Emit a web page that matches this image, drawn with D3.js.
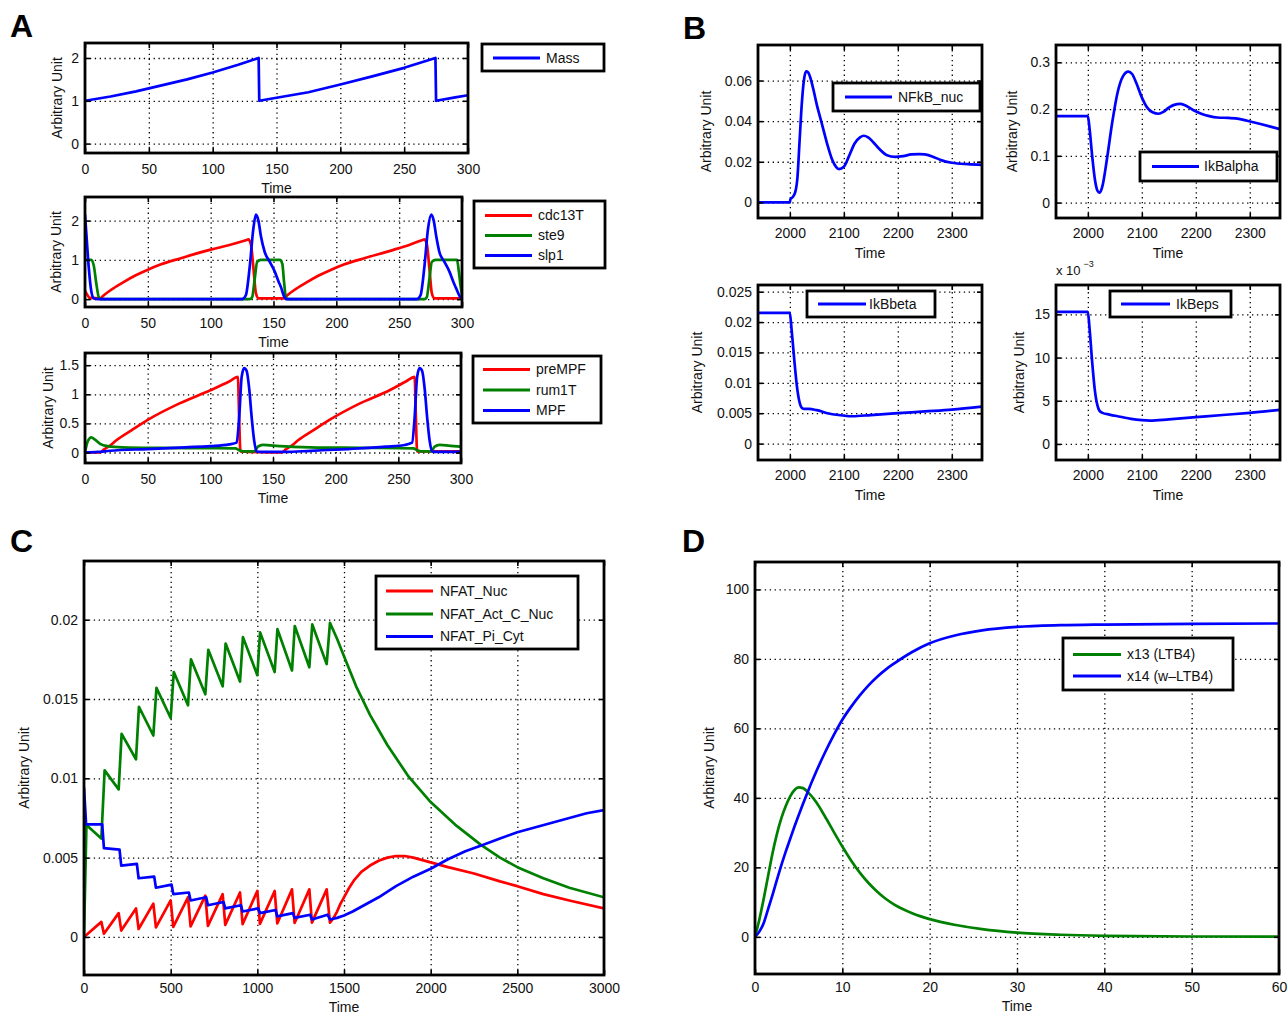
<!DOCTYPE html>
<html><head><meta charset="utf-8">
<script src="https://cdn.jsdelivr.net/npm/d3@7"></script>
<style>body{margin:0;background:#fff}svg{display:block}text{font-family:"Liberation Sans",Arial,sans-serif}</style>
</head><body><svg id="c" width="1288" height="1015"></svg>
<script>
// ---------- DATA ----------
// Panel A
const massT = [0,20,40,60,80,100,120,136,136.5,150,175,200,225,250,274.5,275,290,300];
const massV = [1,1.1,1.22,1.36,1.5,1.66,1.84,2,1,1.07,1.2,1.38,1.57,1.77,2,1,1.08,1.13];
const cdcT = [0,2,4,12,15,20,30,40,50,60,75,100,115,128,130,132,134,136,138,158,161,166,176,186,196,206,221,246,258,268,270,272,274,276,278,300];
const cdcV = [0.22,0.1,0.03,0.02,0.1,0.22,0.42,0.6,0.75,0.88,1.03,1.26,1.38,1.5,1.52,1.4,0.8,0.15,0.02,0.02,0.1,0.22,0.42,0.6,0.75,0.88,1.03,1.26,1.38,1.5,1.52,1.4,0.8,0.15,0.02,0.02];
const steT = [0,5,7,9,11,13,131,133,135,137,140,155,157,158.5,160,162,270,272,274,276,279,296,297.5,299,300];
const steV = [1,1,0.85,0.4,0.05,0,0,0.05,0.5,0.95,1,1,0.9,0.4,0.03,0,0,0.05,0.5,0.95,1,1,0.7,0.3,0.1];
const slpT = [0,1,3,5,7,10,125,128,131,134,136,138,140,143,147,151,154,156,158,160,264,267,270,273,275.5,277.5,279.5,282,286,290,293,295,297,299,300];
const slpV = [2.15,1.7,0.8,0.2,0.02,0,0,0.1,0.8,1.8,2.15,2.0,1.6,1.2,0.95,0.7,0.45,0.3,0.1,0,0,0.1,0.8,1.8,2.15,2.0,1.6,1.2,0.95,0.7,0.45,0.3,0.15,0.03,0];
const preT = [0,12,15,20,25,37,50,75,100,115,122,123,124,157,160,165,170,182,195,219,243,256,263,264,265,300];
const preV = [0,0,0.05,0.12,0.21,0.38,0.56,0.84,1.07,1.22,1.3,0.6,0.02,0,0.05,0.12,0.21,0.38,0.56,0.84,1.07,1.22,1.3,0.6,0.02,0.02];
const rumT = [0,2,5,8,12,18,30,60,100,120,123,126,135,138,142,155,180,220,262,265,268,276,279,283,290,300];
const rumV = [0,0.18,0.26,0.22,0.15,0.11,0.09,0.08,0.075,0.07,0.04,0.02,0.02,0.1,0.13,0.11,0.09,0.08,0.07,0.04,0.02,0.02,0.1,0.13,0.12,0.1];
const mpfT = [0,10,20,50,80,100,115,121,123,125,127,129,131,133,135,137,139,160,180,210,240,255,261,263,265,267,269,271,273,275,277,279,300];
const mpfV = [0,0.01,0.03,0.06,0.09,0.11,0.14,0.17,0.6,1.3,1.45,1.4,1.1,0.6,0.2,0.02,0.01,0.01,0.03,0.06,0.1,0.13,0.17,0.6,1.3,1.45,1.4,1.1,0.6,0.2,0.02,0.01,0.01];
// Panel B
const nfT = [1941,2000,2001,2005,2010,2014,2018,2022,2026,2030,2034,2040,2045,2050,2056,2063,2070,2077,2083,2091,2100,2110,2120,2130,2137,2145,2155,2165,2180,2195,2210,2225,2240,2250,2265,2280,2300,2330,2356];
const nfV = [0,0,0.0015,0.0025,0.005,0.012,0.03,0.048,0.06,0.0645,0.064,0.0595,0.054,0.048,0.042,0.035,0.028,0.022,0.0185,0.0164,0.0175,0.023,0.029,0.032,0.0328,0.032,0.0295,0.0265,0.0232,0.0224,0.0228,0.0236,0.0238,0.0236,0.0225,0.0208,0.0195,0.0188,0.0185];
const iaT = [1941,2000,2003,2008,2013,2018,2022,2027,2035,2045,2055,2065,2075,2082,2090,2100,2110,2120,2131,2140,2150,2160,2171,2180,2195,2210,2225,2240,2260,2280,2295,2320,2340,2356];
const iaV = [0.185,0.185,0.16,0.1,0.05,0.025,0.021,0.035,0.09,0.17,0.235,0.27,0.28,0.275,0.255,0.225,0.203,0.193,0.19,0.194,0.203,0.209,0.211,0.208,0.198,0.19,0.185,0.182,0.181,0.179,0.175,0.168,0.162,0.157];
const ibT = [1941,2000,2003,2008,2013,2018,2022,2027,2035,2050,2070,2090,2116,2150,2200,2250,2300,2356];
const ibV = [0.0215,0.0215,0.019,0.014,0.0095,0.0068,0.0059,0.0057,0.0057,0.0055,0.005,0.0047,0.0045,0.0047,0.005,0.0053,0.0056,0.0061];
const ieT = [1941,2000,2003,2008,2013,2018,2022,2027,2040,2060,2080,2100,2115,2150,2200,2250,2300,2356];
const ieV = [15.3,15.3,13.5,9.5,6.2,4.4,3.8,3.6,3.4,3.15,2.9,2.75,2.7,2.85,3.1,3.35,3.6,3.95];
// Panel C
const nucT = [0,100,115,200,215,300,315,400,415,500,515,600,615,700,715,800,815,900,915,1000,1015,1100,1115,1200,1215,1300,1315,1400,1419,1440,1460,1480,1500,1530,1560,1600,1650,1700,1750,1800,1850,1900,2000,2100,2250,2400,2500,2650,2800,3000];
const nucV = [0,0.00095,0.0002,0.0015,0.0004,0.0018,0.0005,0.0021,0.0006,0.0023,0.00063,0.0025,0.00067,0.0026,0.0007,0.0027,0.00076,0.0028,0.0008,0.0029,0.00082,0.0029,0.00085,0.003,0.00088,0.003,0.0009,0.003,0.0009,0.0012,0.0016,0.0021,0.0025,0.0031,0.0036,0.0041,0.0045,0.0048,0.005,0.0051,0.0051,0.005,0.0047,0.0044,0.004,0.0035,0.0032,0.0027,0.0023,0.0018];
const actT = [0,14,100,119,200,217,300,317,400,418,500,518,600,617,700,717,800,817,900,917,1000,1016,1100,1116,1200,1216,1300,1317,1400,1419,1460,1500,1570,1650,1750,1873,2000,2150,2290,2400,2500,2650,2800,3000];
const actV = [0,0.00705,0.0062,0.0105,0.0093,0.0128,0.0112,0.0145,0.0127,0.0157,0.0138,0.0167,0.0146,0.0175,0.0153,0.0181,0.0158,0.0185,0.0161,0.0189,0.0165,0.0192,0.0167,0.0194,0.0168,0.0196,0.017,0.0197,0.0172,0.0198,0.0188,0.0177,0.0158,0.014,0.0121,0.0101,0.0085,0.007,0.0058,0.005,0.0044,0.0037,0.0031,0.0025];
const piT = [0,12,105,115,205,215,305,315,405,415,505,515,605,615,705,715,805,815,905,915,1005,1015,1105,1115,1205,1215,1305,1315,1405,1419,1460,1500,1550,1600,1700,1800,1900,2000,2100,2200,2300,2400,2500,2600,2700,2800,2900,3000];
const piV = [0.0094,0.0071,0.0071,0.0056,0.0055,0.0045,0.0046,0.0037,0.0038,0.0031,0.0033,0.0027,0.0028,0.0023,0.0025,0.002,0.0022,0.0018,0.002,0.0016,0.0018,0.0015,0.0017,0.0013,0.0015,0.0012,0.0014,0.0011,0.0014,0.0011,0.0012,0.00135,0.0016,0.0019,0.0025,0.0032,0.0038,0.0043,0.0049,0.0054,0.0058,0.0062,0.0066,0.0069,0.0072,0.0075,0.0078,0.008];
// Panel D
const dT = [0,0.5,1,1.5,2,2.5,3,3.5,4,4.5,5,5.5,6,7,8,9,10,11,12,13,14,15,16,18,20,23,26,30,35,40,50,60];
const x13V = [0,5,11,17.5,24,29.5,34,37.5,40.3,42.2,43,42.8,41.8,38.8,34.7,30.3,26,22,18.5,15.5,13,10.9,9.2,6.8,5.1,3.4,2.2,1.2,0.6,0.3,0.1,0.05];
const x14V = [0,1.5,4,8,12,16.3,20.5,24.4,28,31.6,35,38.3,41.5,47.5,53,58,62.5,66.2,69.5,72.4,74.9,77,78.8,82,84.5,86.8,88.2,89.2,89.7,89.9,90.1,90.2];
// Ticks
const ticksA_x = [0,50,100,150,200,250,300];
const ticksA1_y = [0,1,2];
const ticksA3_y = [0,0.5,1,1.5];
const ticksB_x = [2000,2100,2200,2300];
const ticksB1_y = [0,0.02,0.04,0.06];
const ticksB2_y = [0,0.1,0.2,0.3];
const ticksB3_y = [0,0.005,0.01,0.015,0.02,0.025];
const ticksB4_y = [0,5,10,15];
const ticksC_x = [0,500,1000,1500,2000,2500,3000];
const ticksC_y = [0,0.005,0.01,0.015,0.02];
const ticksD_x = [0,10,20,30,40,50,60];
const ticksD_y = [0,20,40,60,80,100];

// ---------- DRAW ----------
const RED="#ff0000", GREEN="#008000", BLUE="#0000ff";
const svg = d3.select("#c");
svg.append("rect").attr("width",1288).attr("height",1015).attr("fill","#fff");
const defs = svg.append("defs");
const fmt = d3.format("~g");

function drawPanel(P){
  const x = d3.scaleLinear().domain(P.xd).range([P.x0,P.x1]);
  const y = d3.scaleLinear().domain(P.yd).range([P.y1,P.y0]);
  const W = P.x1-P.x0, H = P.y1-P.y0;
  const g = svg.append("g");
  const inX = P.xt.filter(t => x(t) > P.x0+1 && x(t) < P.x1-1);
  const inY = P.yt.filter(t => y(t) > P.y0+1 && y(t) < P.y1-1);
  // grid
  const gx = g.append("g").attr("transform",`translate(0,${P.y1})`)
    .call(d3.axisBottom(x).tickValues(inX).tickSize(-H).tickFormat(""));
  const gy = g.append("g").attr("transform",`translate(${P.x0},0)`)
    .call(d3.axisLeft(y).tickValues(inY).tickSize(-W).tickFormat(""));
  [gx,gy].forEach(a=>{a.select(".domain").remove();
    a.selectAll("line").attr("stroke","#000").attr("stroke-width",1.3).attr("stroke-dasharray","1.3,3.6");});
  // curves
  const cid = "clip_"+P.id;
  defs.append("clipPath").attr("id",cid).append("rect")
    .attr("x",P.x0).attr("y",P.y0).attr("width",W).attr("height",H);
  const line = d3.line().x(d=>x(d[0])).y(d=>y(d[1])).curve(P.curve || d3.curveMonotoneX);
  P.series.forEach(s=>{
    g.append("path").datum(d3.zip(s.t,s.v)).attr("clip-path",`url(#${cid})`)
      .attr("fill","none").attr("stroke",s.c).attr("stroke-width",2.7)
      .attr("stroke-linejoin","round").attr("d",line);
  });
  // inner tick marks + labels
  const styleAx = a=>{a.select(".domain").remove();
    a.selectAll("line").attr("stroke","#000").attr("stroke-width",1.6);
    a.attr("font-size",14).attr("font-family","'Liberation Sans',Arial,sans-serif");
    a.selectAll("text").attr("fill","#111");};
  styleAx(g.append("g").attr("transform",`translate(0,${P.y1})`)
    .call(d3.axisBottom(x).tickValues(P.xt).tickSize(-5).tickPadding(P.xpad||11).tickFormat(fmt)));
  styleAx(g.append("g").attr("transform",`translate(0,${P.y0})`)
    .call(d3.axisTop(x).tickValues(P.xt).tickSize(-5).tickFormat("")));
  styleAx(g.append("g").attr("transform",`translate(${P.x0},0)`)
    .call(d3.axisLeft(y).tickValues(P.yt).tickSize(-5).tickPadding(6).tickFormat(fmt)));
  styleAx(g.append("g").attr("transform",`translate(${P.x1},0)`)
    .call(d3.axisRight(y).tickValues(P.yt).tickSize(-5).tickFormat("")));
  // box
  g.append("rect").attr("x",P.x0).attr("y",P.y0).attr("width",W).attr("height",H)
    .attr("fill","none").attr("stroke","#000").attr("stroke-width",2.8);
  // labels
  g.append("text").attr("x",(P.x0+P.x1)/2).attr("y",P.y1+P.tdy).attr("text-anchor","middle")
    .attr("font-size",14).attr("fill","#111").text("Time");
  g.append("text").attr("transform",`translate(${P.ylx},${(P.y0+P.y1)/2}) rotate(-90)`)
    .attr("text-anchor","middle").attr("dy","0.35em").attr("font-size",14).attr("fill","#111")
    .text("Arbitrary Unit");
  // legend
  const L = P.leg;
  g.append("rect").attr("x",L.x0).attr("y",L.y0).attr("width",L.x1-L.x0).attr("height",L.y1-L.y0)
    .attr("fill","#fff").attr("stroke","#000").attr("stroke-width",2.8);
  P.series.forEach((s,i)=>{
    const yy = L.ys[i];
    g.append("line").attr("x1",L.l0).attr("x2",L.l1).attr("y1",yy).attr("y2",yy)
      .attr("stroke",s.c).attr("stroke-width",3);
    g.append("text").attr("x",L.tx).attr("y",yy).attr("dy","0.35em").attr("font-size",14)
      .attr("fill","#111").text(s.name);
  });
  return {x,y,g};
}

// Panel A
drawPanel({id:"a1",x0:85,x1:468,y0:43,y1:153,xd:[0,300],yd:[-0.22,2.35],xt:ticksA_x,yt:ticksA1_y,tdy:40,ylx:57,
  curve:d3.curveLinear,
  series:[{t:massT,v:massV,c:BLUE,name:"Mass"}],
  leg:{x0:482,x1:604,y0:44,y1:71,l0:493,l1:540,tx:546,ys:[58]}});
drawPanel({id:"a2",x0:85,x1:462,y0:197,y1:307,xd:[0,300],yd:[-0.2,2.6],xt:ticksA_x,yt:ticksA1_y,tdy:40,ylx:56,
  series:[{t:cdcT,v:cdcV,c:RED,name:"cdc13T"},{t:steT,v:steV,c:GREEN,name:"ste9"},{t:slpT,v:slpV,c:BLUE,name:"slp1"}],
  leg:{x0:474,x1:605,y0:201,y1:268,l0:485,l1:532,tx:538,ys:[215.5,235.5,255.5]}});
drawPanel({id:"a3",x0:85,x1:461,y0:353,y1:463,xd:[0,300],yd:[-0.18,1.71],xt:ticksA_x,yt:ticksA3_y,tdy:40,ylx:48,
  series:[{t:preT,v:preV,c:RED,name:"preMPF"},{t:rumT,v:rumV,c:GREEN,name:"rum1T"},{t:mpfT,v:mpfV,c:BLUE,name:"MPF"}],
  leg:{x0:473,x1:601,y0:356,y1:423,l0:483,l1:530,tx:536,ys:[369.5,390,410.5]}});

// Panel B
drawPanel({id:"b1",x0:758,x1:982,y0:45,y1:218,xd:[1941,2356],yd:[-0.0077,0.0775],xt:ticksB_x,yt:ticksB1_y,tdy:40,ylx:706,xpad:10,
  series:[{t:nfT,v:nfV,c:BLUE,name:"NFkB_nuc"}],
  leg:{x0:833,x1:980,y0:83,y1:111,l0:845,l1:892,tx:898,ys:[97]}});
drawPanel({id:"b2",x0:1056,x1:1280,y0:45,y1:218,xd:[1941,2356],yd:[-0.033,0.337],xt:ticksB_x,yt:ticksB2_y,tdy:40,ylx:1012,xpad:10,
  series:[{t:iaT,v:iaV,c:BLUE,name:"IkBalpha"}],
  leg:{x0:1140,x1:1277,y0:152,y1:181,l0:1152,l1:1199,tx:1204,ys:[166.5]}});
drawPanel({id:"b3",x0:758,x1:982,y0:285,y1:460,xd:[1941,2356],yd:[-0.0027,0.0261],xt:ticksB_x,yt:ticksB3_y,tdy:40,ylx:697,xpad:10,
  series:[{t:ibT,v:ibV,c:BLUE,name:"IkBbeta"}],
  leg:{x0:807,x1:935,y0:291,y1:317,l0:818,l1:866,tx:869,ys:[304]}});
drawPanel({id:"b4",x0:1056,x1:1280,y0:285,y1:460,xd:[1941,2356],yd:[-1.86,18.4],xt:ticksB_x,yt:ticksB4_y,tdy:40,ylx:1019,xpad:10,
  series:[{t:ieT,v:ieV,c:BLUE,name:"IkBeps"}],
  leg:{x0:1110,x1:1231,y0:291,y1:317,l0:1121,l1:1170,tx:1176,ys:[304]}});
// exponent label for B4
const ex = svg.append("text").attr("x",1056).attr("y",275).attr("font-size",13).attr("fill","#111");
ex.append("tspan").text("x 10");
ex.append("tspan").attr("dx",3).attr("dy",-8).attr("font-size",9).text("\u22123");

// Panel C
drawPanel({id:"c",x0:84,x1:604,y0:561,y1:975,xd:[0,3000],yd:[-0.0024,0.0237],xt:ticksC_x,yt:ticksC_y,tdy:37,ylx:24,xpad:8,
  curve:d3.curveLinear,
  series:[{t:nucT,v:nucV,c:RED,name:"NFAT_Nuc"},{t:actT,v:actV,c:GREEN,name:"NFAT_Act_C_Nuc"},{t:piT,v:piV,c:BLUE,name:"NFAT_Pi_Cyt"}],
  leg:{x0:376,x1:578,y0:576,y1:649,l0:386,l1:433,tx:440,ys:[591,614,636.5]}});

// Panel D
drawPanel({id:"d",x0:755,x1:1279,y0:562,y1:974,xd:[0,60],yd:[-10.7,107.9],xt:ticksD_x,yt:ticksD_y,tdy:37,ylx:709,xpad:8,
  series:[{t:dT,v:x13V,c:GREEN,name:"x13 (LTB4)"},{t:dT,v:x14V,c:BLUE,name:"x14 (w\u2013LTB4)"}],
  leg:{x0:1063,x1:1233,y0:638,y1:690,l0:1073,l1:1121,tx:1127,ys:[654.5,676]}});

// panel letters
[["A",10,37],["B",683,39],["C",10,552],["D",682,552]].forEach(([t,x,y])=>{
  svg.append("text").attr("x",x).attr("y",y).attr("font-size",32).attr("font-weight","bold")
    .attr("font-family","'Liberation Sans',Arial,sans-serif").attr("fill","#000").text(t);
});
</script></body></html>
